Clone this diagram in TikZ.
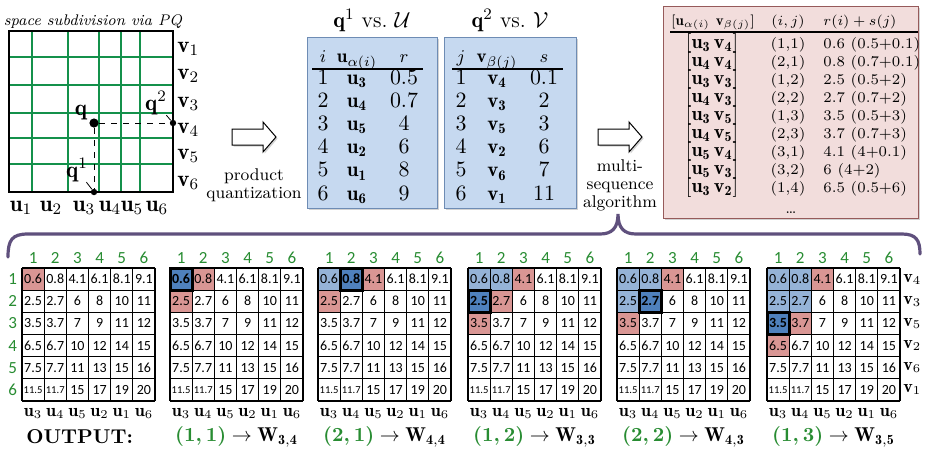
\documentclass[tikz,border=0pt]{standalone}
\usepackage{amsmath, amssymb}
\usepackage{fontspec}
\newfontfamily\cellfont{Carlito}
\usetikzlibrary{shadows}

\definecolor{boxblue}{RGB}{198,217,240}
\definecolor{boxblueline}{RGB}{110,140,180}
\definecolor{boxpink}{RGB}{242,221,220}
\definecolor{boxpinkline}{RGB}{150,90,90}
\definecolor{cellpink}{RGB}{217,150,148}
\definecolor{cellblue}{RGB}{149,179,215}
\definecolor{celldark}{RGB}{79,129,189}
\definecolor{idxgreen}{RGB}{40,140,50}
\definecolor{gridgreen}{RGB}{20,145,75}
\definecolor{bracecol}{RGB}{95,80,125}

\begin{document}
\begin{tikzpicture}[x=0.5pt,y=-0.5pt]
    % Multi-sequence algorithm over a product-quantized 2D space.
    % Units are pixels of the original slide, y grows downwards.

    \tikzset{
      pqline/.style={gridgreen, line width=0.6pt},
      pqframe/.style={line width=0.6pt},
      axlbl/.style={anchor=base, font=\fontsize{11.5}{13}\selectfont, inner sep=0pt},
      qlbl/.style={font=\fontsize{11.5}{13}\selectfont, inner sep=0pt},
      bigdot/.style={circle, fill, inner sep=0pt, minimum size=4.6pt},
      smalldot/.style={circle, fill, inner sep=0pt, minimum size=3.2pt},
      sidenote/.style={align=center, font=\fontsize{8.5}{9}\selectfont},
      tabtitle/.style={anchor=base, font=\fontsize{11}{13}\selectfont},
      tbl/.style={anchor=base, font=\fontsize{10.5}{12}\selectfont, inner sep=0pt},
      thead/.style={anchor=base, font=\fontsize{9.5}{11}\selectfont, inner sep=0pt},
      ptbl/.style={anchor=base, font=\fontsize{7.4}{9}\selectfont, inner sep=0pt},
      pbig/.style={anchor=base, font=\fontsize{10}{12}\selectfont, inner sep=0pt},
      bluebox/.style={draw=boxblueline, fill=boxblue, line width=0.5pt,
        drop shadow={shadow xshift=1.2pt, shadow yshift=-1.2pt, opacity=.35}},
      pinkbox/.style={draw=boxpinkline, fill=boxpink, line width=0.5pt,
        drop shadow={shadow xshift=1.2pt, shadow yshift=-1.2pt, opacity=.35}},
      brace/.style={bracecol, line width=1.6pt, line cap=round},
      cellval/.style={font=\cellfont\fontsize{7}{8}\selectfont, inner sep=0pt},
      cellline/.style={line width=0.6pt},
      colnum/.style={font=\cellfont\fontsize{8.5}{10}\selectfont, text=idxgreen, inner sep=0pt},
      ulbl/.style={font=\fontsize{9}{10}\selectfont, inner sep=0pt},
      visited/.style={fill=cellblue},
      frontier/.style={fill=cellpink},
      curcell/.style={draw, line width=1.5pt, fill=celldark, minimum size=11.085pt,
        inner sep=0pt, font=\cellfont\bfseries\fontsize{7}{8}\selectfont},
      outlbl/.style={font=\fontsize{10}{12}\selectfont},
      pics/blockarrow/.style={code={
        \draw[fill=white, line width=0.5pt,
          drop shadow={shadow xshift=0.8pt, shadow yshift=-0.8pt, opacity=.35}]
          (-22,-8) -- (9,-8) -- (9,-15) -- (22,0) -- (9,15) -- (9,8) -- (-22,8) -- cycle;
      }},
      % #1,#2 = row and column of the cell taken at this step (0,0 for none)
      pics/msgrid/.style 2 args={code={
        \foreach \row [count=\i] in {{0.6,0.8,4.1,6.1,8.1,9.1},{2.5,2.7,6,8,10,11},
            {3.5,3.7,7,9,11,12},{6.5,6.7,10,12,14,15},{7.5,7.7,11,13,15,16},
            {{\fontsize{5.3}{6}\selectfont 11.5},{\fontsize{5.3}{6}\selectfont 11.7},15,17,19,20}}
          \foreach \val [count=\j] in \row {
            \pgfmathtruncatemacro\iscur{(\i==#1)&&(\j==#2)}
            \ifnum\iscur=0
              \node[cellval] (-c\i\j) at (\j-.5,\i-.5) {\val};
            \else
              \node[curcell] (-cur) at (\j-.5,\i-.5) {\val};
            \fi
          }
        \foreach \k in {0,...,6} {
          \draw[cellline] (\k,0) -- (\k,6);
          \draw[cellline] (0,\k) -- (6,\k);
        }
        \ifnum#1>0
          \draw[line width=1.5pt] (#2-1,#1-1) rectangle (#2,#1);
        \fi
        \foreach \k/\a in {1/3,2/4,3/5,4/2,5/1,6/6} {
          \node[colnum] (-n\k) at (\k-.5,-.45) {\k};
          \node[ulbl] (-u\k) at (\k-.5,6.55) {$\mathbf{u}_\a$};
        }
      }}
    }

    \useasboundingbox (0,0) rectangle (930,452);

    % --- space subdivision via PQ
    \node[anchor=base, font=\fontsize{7.7}{9}\selectfont] (pqtitle) at (93,25) {\textit{space subdivision via PQ}};
    \foreach \x in {32,68,99,121,140} \draw[pqline] (\x,31) -- (\x,192);
    \foreach \y in {57,85,113,138,164} \draw[pqline] (9,\y) -- (173,\y);
    \draw[pqframe] (9,31) rectangle (173,192);
    \foreach \x/\k in {21/1,51/2,84/3,110/4,132/5,157/6}
      \node[axlbl] (u\k) at (\x,211) {$\mathbf{u}_\k$};
    \foreach \y/\k in {52/1,79/2,107/3,133/4,159/5,186/6}
      \node[axlbl, anchor=base west] (v\k) at (177,\y) {$\mathbf{v}_\k$};

    \node[bigdot] (q) at (94,123) {};
    \node[smalldot] (q1) at (94,192) {};
    \node[smalldot] (q2) at (173,123) {};
    \draw[dashed] (q) -- (q1);
    \draw[dashed] (q) -- (q2);
    \node[qlbl] (qlbl) at (81,113) {$\mathbf{q}$};
    \node[qlbl] (q1lbl) at (77,170) {$\mathbf{q}^1$};
    \node[qlbl] (q2lbl) at (156,103) {$\mathbf{q}^2$};
    \draw (q1lbl) -- (q1);
    \draw (q2lbl) -- (q2);

    % --- product quantization step
    \pic (pqarrow) at (254,137) {blockarrow};
    \node[sidenote] (pqnote) at (254,185) {product\\quantization};

    % --- the two sorted codebook tables
    \draw[bluebox] (307,37) rectangle (437,208);
    \draw[bluebox] (444,37) rectangle (576,208);
    \node[tabtitle] (utitle) at (372,27) {$\mathbf{q}^1$ vs.\ $\mathcal{U}$};
    \node[tabtitle] (vtitle) at (510,27) {$\mathbf{q}^2$ vs.\ $\mathcal{V}$};

    \node[thead] (ihead) at (323,62) {$i$};
    \node[thead] (uhead) at (357,62) {$\mathbf{u}_{\alpha(i)}$};
    \node[thead] (rhead) at (404,62) {$r$};
    \draw[line width=0.6pt] (312,69) -- (423,69);
    \foreach \a/\r [count=\n] in {3/0.5,4/0.7,5/4,2/6,1/8,6/9} {
      \node[tbl] (i\n) at (323,{84+23.2*(\n-1)}) {$\n$};
      \node[tbl] (ua\n) at (357,{84+23.2*(\n-1)}) {$\mathbf{u_\a}$};
      \node[tbl] (r\n) at (404,{84+23.2*(\n-1)}) {$\r$};
    }

    \node[thead] (jhead) at (461,62) {$j$};
    \node[thead] (vhead) at (497,62) {$\mathbf{v}_{\beta(j)}$};
    \node[thead] (shead) at (544,62) {$s$};
    \draw[line width=0.6pt] (452,69) -- (563,69);
    \foreach \b/\s [count=\n] in {4/0.1,3/2,5/3,2/6,6/7,1/11} {
      \node[tbl] (j\n) at (461,{84+23.2*(\n-1)}) {$\n$};
      \node[tbl] (vb\n) at (497,{84+23.2*(\n-1)}) {$\mathbf{v_\b}$};
      \node[tbl] (s\n) at (544,{84+23.2*(\n-1)}) {$\s$};
    }

    % --- multi-sequence step
    \pic (msarrow) at (620,137) {blockarrow};
    \node[sidenote] (msnote) at (620,185) {multi-\\sequence\\algorithm};

    % --- output list of cell pairs
    \draw[pinkbox] (663,6) rectangle (918,218);
    \node[ptbl] (pairhead) at (713,25) {$[\mathbf{u}_{\alpha(i)}\ \mathbf{v}_{\beta(j)}]$};
    \node[ptbl] (ijhead) at (788,25) {$(i,j)$};
    \node[ptbl, anchor=base west] (sumhead) at (823,25) {$r(i)+s(j)$};
    \draw[line width=0.6pt] (670,32) -- (918,32);
    \foreach \a/\b/\ij/\val [count=\n] in {3/4/{(1,1)}/{0.6 (0.5+0.1)},
        4/4/{(2,1)}/{0.8 (0.7+0.1)}, 3/3/{(1,2)}/{2.5 (0.5+2)}, 4/3/{(2,2)}/{2.7 (0.7+2)},
        3/5/{(1,3)}/{3.5 (0.5+3)}, 4/5/{(2,3)}/{3.7 (0.7+3)}, 5/4/{(3,1)}/{4.1 (4+0.1)},
        5/3/{(3,2)}/{6 (4+2)}, 3/2/{(1,4)}/{6.5 (0.5+6)}} {
      \node[pbig] (pair\n) at (712,{48+18.1*(\n-1)}) {$[\mathbf{u_\a\,v_\b}]$};
      \node[ptbl] (ij\n) at (788,{48+18.1*(\n-1)}) {\ij};
      \node[ptbl, anchor=base west] (sum\n) at (823,{48+18.1*(\n-1)}) {\val};
    }
    \node[ptbl] (pdots) at (791,213) {\dots};

    % --- brace over the six steps
    \draw[brace] (8,257) .. controls (8,240) and (12,234) .. (28,234) -- (600,234)
      .. controls (612,234) and (618,228) .. (618,214)
      .. controls (618,228) and (624,234) .. (636,234) -- (902,234)
      .. controls (916,234) and (920,240) .. (920,254);

    % --- step 0: only (1,1) in the queue
    \begin{scope}[shift={(22,268)}, x=11.085pt, y=-11.085pt]
      \fill[frontier] (0,0) rectangle (1,1);
      \pic (g1) {msgrid={0}{0}};
      \foreach \k in {1,...,6}
        \node[colnum] (rn\k) at (-.42,\k-.5) {\k};
      \node[outlbl] (out1) at (2.6,7.6) {\textbf{OUTPUT:}};
    \end{scope}

    % --- step 1
    \begin{scope}[shift={(170,268)}, x=11.085pt, y=-11.085pt]
      \foreach \r/\c in {1/2,2/1} \fill[frontier] (\c-1,\r-1) rectangle (\c,\r);
      \pic (g2) {msgrid={1}{1}};
      \node[outlbl] (out2) at (3,7.6) {$\color{idxgreen}\boldsymbol{(1,1)}\color{black}\rightarrow\mathbf{W}_{\mathbf{3,4}}$};
    \end{scope}

    % --- step 2
    \begin{scope}[shift={(318,268)}, x=11.085pt, y=-11.085pt]
      \foreach \r/\c in {1/1} \fill[visited] (\c-1,\r-1) rectangle (\c,\r);
      \foreach \r/\c in {1/3,2/1} \fill[frontier] (\c-1,\r-1) rectangle (\c,\r);
      \pic (g3) {msgrid={1}{2}};
      \node[outlbl] (out3) at (3,7.6) {$\color{idxgreen}\boldsymbol{(2,1)}\color{black}\rightarrow\mathbf{W}_{\mathbf{4,4}}$};
    \end{scope}

    % --- step 3
    \begin{scope}[shift={(468,268)}, x=11.085pt, y=-11.085pt]
      \foreach \r/\c in {1/1,1/2} \fill[visited] (\c-1,\r-1) rectangle (\c,\r);
      \foreach \r/\c in {1/3,2/2,3/1} \fill[frontier] (\c-1,\r-1) rectangle (\c,\r);
      \pic (g4) {msgrid={2}{1}};
      \node[outlbl] (out4) at (3,7.6) {$\color{idxgreen}\boldsymbol{(1,2)}\color{black}\rightarrow\mathbf{W}_{\mathbf{3,3}}$};
    \end{scope}

    % --- step 4
    \begin{scope}[shift={(617,268)}, x=11.085pt, y=-11.085pt]
      \foreach \r/\c in {1/1,1/2,2/1} \fill[visited] (\c-1,\r-1) rectangle (\c,\r);
      \foreach \r/\c in {1/3,3/1} \fill[frontier] (\c-1,\r-1) rectangle (\c,\r);
      \pic (g5) {msgrid={2}{2}};
      \node[outlbl] (out5) at (3,7.6) {$\color{idxgreen}\boldsymbol{(2,2)}\color{black}\rightarrow\mathbf{W}_{\mathbf{4,3}}$};
    \end{scope}

    % --- step 5
    \begin{scope}[shift={(767,268)}, x=11.085pt, y=-11.085pt]
      \foreach \r/\c in {1/1,1/2,2/1,2/2} \fill[visited] (\c-1,\r-1) rectangle (\c,\r);
      \foreach \r/\c in {1/3,3/2,4/1} \fill[frontier] (\c-1,\r-1) rectangle (\c,\r);
      \pic (g6) {msgrid={3}{1}};
      \foreach \b [count=\k] in {4,3,5,2,6,1}
        \node[ulbl] (rv\k) at (6.55,\k-.5) {$\mathbf{v}_\b$};
      \node[outlbl] (out6) at (3,7.6) {$\color{idxgreen}\boldsymbol{(1,3)}\color{black}\rightarrow\mathbf{W}_{\mathbf{3,5}}$};
    \end{scope}
  \end{tikzpicture}
\end{document}
